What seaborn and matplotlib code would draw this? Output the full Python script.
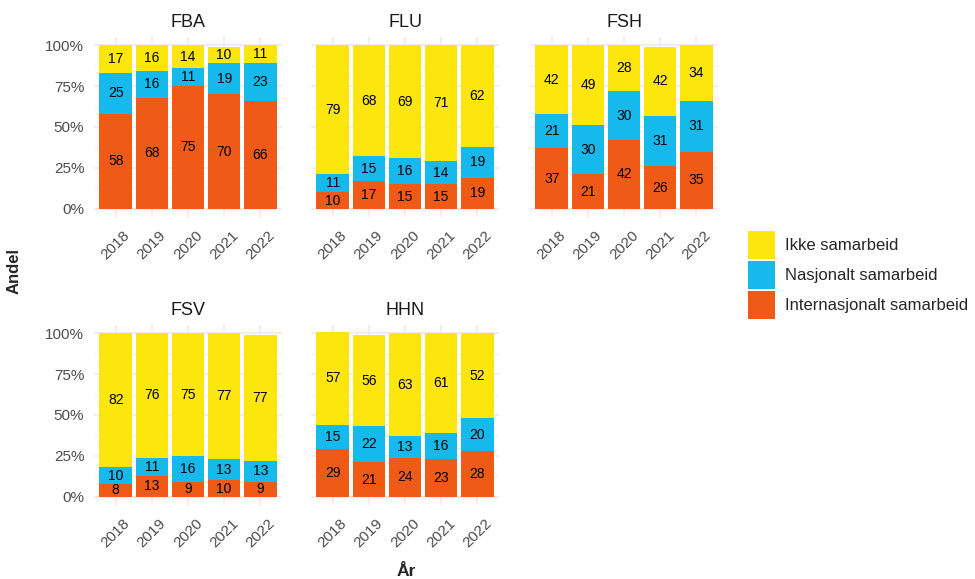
#-------------------------------------------------------------------------------------------
# Samarbeid per fakultet (andel), stacked bars per year
#-------------------------------------------------------------------------------------------

# Plotting.
import matplotlib
matplotlib.use("Agg")
import matplotlib.pyplot as plt
from matplotlib.patches import Patch
from matplotlib.ticker import PercentFormatter, MultipleLocator

# Data frames.
import pandas as pd

# Graphic manipulation.
import seaborn as sns

#-------------------------------------------------------------------------------------------
# DATA
#-------------------------------------------------------------------------------------------
years = ["2018", "2019", "2020", "2021", "2022"]
units = ["FBA", "FLU", "FSH", "FSV", "HHN"]
categories = ["Internasjonalt samarbeid", "Nasjonalt samarbeid", "Ikke samarbeid"]

# Values in percent, bottom -> top (internasjonalt, nasjonalt, ikke).
fba_int = [58, 68, 75, 70, 66]
fba_nas = [25, 16, 11, 19, 23]
fba_ikke = [17, 16, 14, 10, 11]

flu_int = [10, 17, 15, 15, 19]
flu_nas = [11, 15, 16, 14, 19]
flu_ikke = [79, 68, 69, 71, 62]

fsh_int = [37, 21, 42, 26, 35]
fsh_nas = [21, 30, 30, 31, 31]
fsh_ikke = [42, 49, 28, 42, 34]

fsv_int = [8, 13, 9, 10, 9]
fsv_nas = [10, 11, 16, 13, 13]
fsv_ikke = [82, 76, 75, 77, 77]

hhn_int = [29, 21, 24, 23, 28]
hhn_nas = [15, 22, 13, 16, 20]
hhn_ikke = [57, 56, 63, 61, 52]

values = {
    "FBA": [fba_int, fba_nas, fba_ikke],
    "FLU": [flu_int, flu_nas, flu_ikke],
    "FSH": [fsh_int, fsh_nas, fsh_ikke],
    "FSV": [fsv_int, fsv_nas, fsv_ikke],
    "HHN": [hhn_int, hhn_nas, hhn_ikke],
}

# Long format table.
rows = []
for unit in units:
    for cat, series in zip(categories, values[unit]):
        for year, v in zip(years, series):
            rows.append({"unit": unit, "year": year, "category": cat, "value": v})
df = pd.DataFrame(rows)

colors = {
    "Internasjonalt samarbeid": "#EF5A16",
    "Nasjonalt samarbeid": "#16B9EC",
    "Ikke samarbeid": "#FDE50E",
}

#-------------------------------------------------------------------------------------------
# STYLE
#-------------------------------------------------------------------------------------------
sns.set_theme(style="white")
plt.rcParams["font.family"] = ["Liberation Sans", "DejaVu Sans"]

grid_col = "#EBEBEB"
tick_col = "#4D4D4D"

W, H = 975, 579
fig = plt.figure(figsize=(W / 100, H / 100), dpi=100)

# Panel layout in pixels (left, top) of each facet.
panel_w, panel_h = 188, 180
col_left = [94, 311, 530]
row_top = [37, 325]

#-------------------------------------------------------------------------------------------
# FACETS
#-------------------------------------------------------------------------------------------
for k, unit in enumerate(units):
    r, c = divmod(k, 3)
    left = col_left[c] / W
    bottom = 1 - (row_top[r] + panel_h) / H
    ax = fig.add_axes([left, bottom, panel_w / W, panel_h / H])

    d = df[df.unit == unit].pivot(index="year", columns="category", values="value")
    d = d.loc[years, categories]
    cum = d.cumsum(axis=1) / 100
    base = cum - d / 100

    # Draw cumulative heights, tallest first, to get stacked bars.
    for cat in reversed(categories):
        sns.barplot(x=years, y=cum[cat].values, order=years, color=colors[cat],
                    width=0.9, saturation=1, errorbar=None, ax=ax, zorder=2,
                    linewidth=0, edgecolor="none")

    # Value labels in the middle of each segment.
    for i, year in enumerate(years):
        for cat in categories:
            v = d.loc[year, cat]
            ax.text(i, base.loc[year, cat] + v / 200, str(v), ha="center", va="center",
                    fontsize=10, color="black", zorder=3)

    ax.set_xlim(-0.6, 4.6)
    ax.set_ylim(-0.05, 1.05)
    ax.yaxis.set_major_locator(MultipleLocator(0.25))
    ax.yaxis.set_minor_locator(MultipleLocator(0.125))
    ax.yaxis.set_major_formatter(PercentFormatter(xmax=1, decimals=0))
    ax.set_axisbelow(True)
    ax.grid(which="major", color=grid_col, lw=1.1, zorder=0)
    ax.grid(which="minor", axis="y", color=grid_col, lw=0.6, zorder=0)
    for s in ax.spines.values():
        s.set_visible(False)
    ax.set_xlabel("")
    ax.set_ylabel("")
    ax.tick_params(which="both", length=0, colors=tick_col, labelsize=11)
    ax.tick_params(axis="x", pad=8)
    ax.tick_params(axis="y", pad=7)
    for lab in ax.get_xticklabels():
        lab.set_rotation(45)
        lab.set_ha("center")
    if c != 0:
        ax.tick_params(labelleft=False)

    # Facet title.
    ax.text(0.5, 1.055, unit, transform=ax.transAxes, ha="center", va="baseline",
            fontsize=13, color="#1A1A1A")

#-------------------------------------------------------------------------------------------
# AXIS TITLES AND LEGEND
#-------------------------------------------------------------------------------------------
fig.text(14 / W, 1 - 271 / H, "Andel", rotation=90, ha="center", va="center",
         fontsize=12, fontweight="bold")
fig.text(406 / W, 1 - 571 / H, "År", ha="center", va="center",
         fontsize=12.5, fontweight="bold")

legend_order = ["Ikke samarbeid", "Nasjonalt samarbeid", "Internasjonalt samarbeid"]
handles = [Patch(facecolor=colors[c], edgecolor="none", label=c) for c in legend_order]
fig.legend(handles=handles, loc="upper left", bbox_to_anchor=(748 / W, 1 - 231 / H),
           frameon=False, fontsize=12, handlelength=1.62, handleheight=2.21,
           labelspacing=0.12, handletextpad=0.6, borderpad=0, borderaxespad=0)

fig.savefig("out.png", dpi=100)
